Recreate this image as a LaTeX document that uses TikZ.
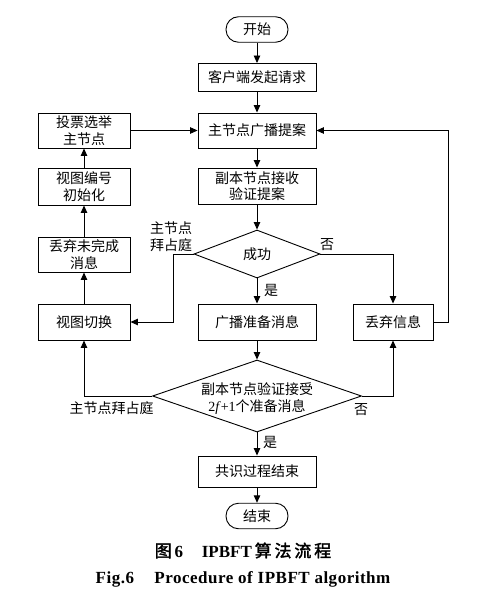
\documentclass[tikz,border=0pt]{standalone}
\usepackage{fontspec}
\setmainfont{Liberation Serif}
\newfontfamily\cjk{Noto Sans CJK SC}
\newfontfamily\cjkb[FakeBold=2]{Noto Sans CJK SC}
\newfontfamily\capfont[LetterSpace=3]{Liberation Serif}
\usetikzlibrary{shapes.geometric,arrows.meta}
\begin{document}
\begin{tikzpicture}[x=1pt,y=-1pt,
  every node/.style={inner sep=0pt, font=\cjk\fontsize{14}{16.5}\selectfont, align=center},
  box/.style={draw, line width=0.9pt, minimum width=118pt},
  lbox/.style={draw, line width=0.9pt, minimum width=92pt},
  term/.style={draw, line width=0.9pt, rounded corners=12.5pt, minimum width=62pt, minimum height=25.5pt},
  dec/.style={draw, line width=0.9pt, diamond},
  arr/.style={line width=0.9pt, -{Triangle[length=7.5pt,width=6.5pt]}},
  ln/.style={line width=0.9pt}]
\useasboundingbox (0,0) rectangle (494,601);
% main column
\node[term] (start) at (257,29.5) {开始};
\node[box, minimum height=28pt] (n1) at (257,77.5) {客户端发起请求};
\node[box, minimum height=35pt] (n2) at (257,130.5) {主节点广播提案};
\node[box, minimum height=36pt] (n3) at (257,186) {副本节点接收\\验证提案};
\node[dec, minimum width=126pt, minimum height=48pt] (d1) at (257,254) {成功};
\node[box, minimum height=36pt] (n4) at (257,322) {广播准备消息};
\node[dec, minimum width=209pt, minimum height=72pt] (d2) at (257,396) {};
\node (d2t) at (257,398.5) {副本节点验证接受\\{\rmfamily 2\textit{f}+1}个准备消息};
\node[box, minimum height=31pt] (n5) at (257,471.5) {共识过程结束};
\node[term] (end) at (257,516) {结束};
% right
\node[draw, line width=0.9pt, minimum width=80pt, minimum height=36pt] (drop) at (393,322) {丢弃信息};
% left column
\node[lbox, minimum height=36pt] (vc) at (84,322) {视图切换};
\node[lbox, minimum height=35pt] (dis) at (84,254.5) {丢弃未完成\\消息};
\node[lbox, minimum height=37pt] (vi) at (84,186.5) {视图编号\\初始化};
\node[lbox, minimum height=35pt] (vote) at (84,130.5) {投票选举\\主节点};
% helper coordinates
\coordinate (k1) at (173,254);
\coordinate (k2) at (448,322);
% connectors
\draw[arr] (start) -- (n1);
\draw[arr] (n1) -- (n2);
\draw[arr] (n2) -- (n3);
\draw[arr] (n3) -- (d1.north);
\draw[arr] (d1.south) -- (n4);
\draw[arr] (n4) -- (d2.north);
\draw[arr] (d2.south) -- (n5);
\draw[arr] (n5) -- (end);
\draw[arr] (d1.east) -| (drop.north);
\draw[arr] (d1.west) -- (k1) |- (vc.east);
\draw[arr] (d2.west) -| (vc.south);
\draw[arr] (d2.east) -| (drop.south);
\draw[arr] (drop.east) -- (k2) |- (n2.east);
\draw[arr] (vc) -- (dis);
\draw[arr] (dis) -- (vi);
\draw[arr] (vi) -- (vote);
\draw[arr] (vote) -- (n2);
% labels
\node (l1) at (171,236.5) {主节点\\拜占庭};
\node (l2) at (327,245) {否};
\node (l3) at (271,290) {是};
\node (l4) at (111.5,408.5) {主节点拜占庭};
\node (l5) at (361,410) {否};
\node (l6) at (270,442) {是};
% caption
\node (cap1) at (243,550.5) {\fontsize{17}{20}\selectfont\cjkb 图\,{\rmfamily\bfseries 6}\hspace{1.1em}{\rmfamily\bfseries IPBFT}\,算\,法\,流\,程};
\node (cap2) at (243,579) {\fontsize{17}{20}\selectfont\capfont\bfseries Fig.6\hspace{1.2em}Procedure of IPBFT algorithm};
\end{tikzpicture}
\end{document}
